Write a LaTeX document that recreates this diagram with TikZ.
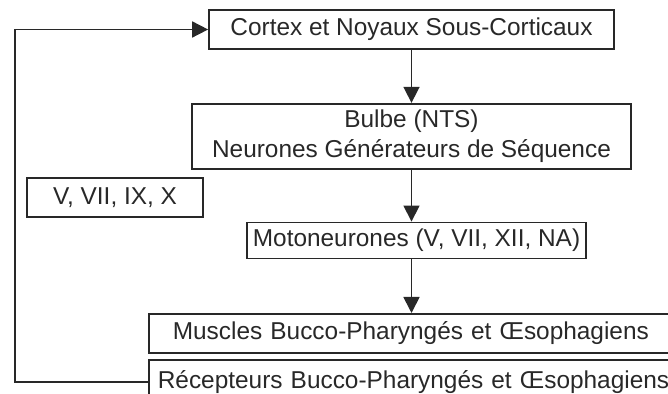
\documentclass[tikz,border=0pt]{standalone}
\usepackage{fontspec}
\setmainfont{Liberation Sans}
\usepackage{xcolor}
\usetikzlibrary{positioning, arrows.meta}

\definecolor{inkgray}{RGB}{40,40,40}

\begin{document}
\begin{tikzpicture}[
		node distance=26pt,
		every node/.style={font=\fontsize{12.2}{14.6}\selectfont, text=inkgray},
		block/.style={rectangle, draw=inkgray, line width=0.85pt, inner sep=0pt},
		pointer/.style={-{Triangle[length=8pt, width=8pt]}, draw=inkgray, line width=0.85pt},
		link/.style={draw=inkgray, line width=0.85pt}
		]
		\useasboundingbox (0,0) rectangle (334pt,-197pt);
		\clip (0,0) rectangle (334pt,-197pt);
		
		% Main column
		\node[block, minimum width=202.5pt, minimum height=19.5pt] (cortex) at (205.75pt,-14.75pt) {Cortex et Noyaux Sous-Corticaux};
		\node[block, minimum width=219.5pt, minimum height=32.5pt, align=center, below=26.5pt of cortex] (bulbe) {Bulbe (NTS)\\Neurones Générateurs de Séquence};
		\node[block, minimum width=169.5pt, minimum height=18pt, below=26pt of bulbe, xshift=2.5pt] (moto) {Motoneurones (V, VII, XII, NA)};
		
		% Nerves
		\node[block, minimum width=88pt, minimum height=19.5pt] (nerfs) at (57.5pt,-98.75pt) {V, VII, IX, X};
		
		% Effectors and receptors
		\node[block, anchor=north west, text width=262pt, inner xsep=12pt, minimum height=19.5pt, align=left] (muscles) at (74pt,-156.5pt) {Muscles Bucco-Pharyngés et Œsophagiens};
		\node[block, anchor=north west, text width=270pt, inner xsep=4.5pt, minimum height=22pt, align=left] (recep) at (74pt,-179.5pt) {Récepteurs Bucco-Pharyngés et Œsophagiens};
		
		% Connections
		\draw[pointer] (cortex) -- (bulbe);
		\draw[pointer] (bulbe) -- (bulbe |- moto.north);
		\draw[pointer] (bulbe |- moto.south) -- (bulbe |- muscles.north);
		
		% Feedback loop
		\coordinate (loop) at (7.5pt,-100pt);
		\draw[pointer] (recep.west) -| (loop) |- (cortex.west);
		
	\end{tikzpicture}
\end{document}
